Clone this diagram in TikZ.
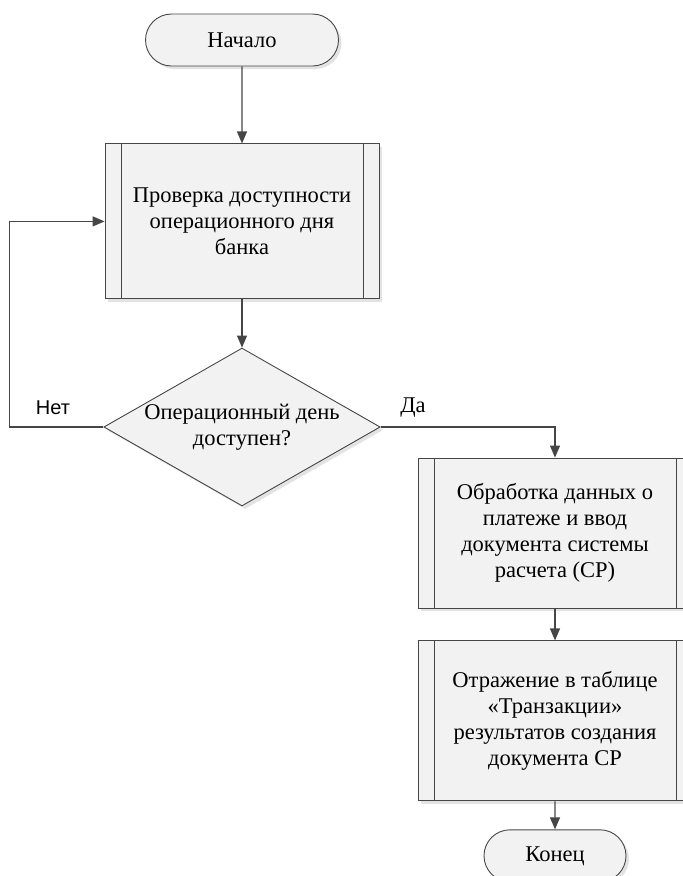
\documentclass[tikz,border=0pt]{standalone}
\usepackage{fontspec}
\setmainfont{Liberation Serif}
\newfontfamily\labelfont{Liberation Sans}
\usepackage{xcolor}
\definecolor{edgegray}{RGB}{70,70,70}
\definecolor{boxgray}{RGB}{242,242,242}
\definecolor{shadegray}{RGB}{200,200,200}
\usetikzlibrary{
  arrows.meta,
  positioning,
  shapes.geometric,
  shapes.misc,
  shadows
}
\tikzset{
  basebox/.style={draw=edgegray, line width=0.9pt, fill=boxgray,
    drop shadow={shadow xshift=3pt, shadow yshift=-3pt, fill=shadegray},
    align=center, font=\fontsize{22.5}{26}\selectfont, inner sep=0pt},
  termbox/.style={basebox, rounded rectangle, minimum height=52pt},
  procbox/.style={basebox, rectangle, minimum width=274pt,
    path picture={
      \draw[edgegray, line width=0.9pt]
        ([xshift=16pt]path picture bounding box.north west) --
        ([xshift=16pt]path picture bounding box.south west)
        ([xshift=-16pt]path picture bounding box.north east) --
        ([xshift=-16pt]path picture bounding box.south east);
    }},
  decbox/.style={basebox, diamond, aspect=1.75,
    minimum width=272pt, minimum height=155pt},
  arr/.style={-{Triangle[length=12pt, width=10pt]}, draw=edgegray,
    line width=1.2pt},
}

\begin{document}
\begin{tikzpicture}[x=1pt, y=-1pt]
  \useasboundingbox (0,0) rectangle (683,876);

  \node[termbox, minimum width=193pt] (start) at (242,40) {Начало};
  \node[procbox, minimum height=155pt, below=77pt of start] (check)
    {Проверка доступности\\операционного дня\\банка};
  \node[decbox] (avail) at (242,427)
    {Операционный день\\доступен?};
  \node[procbox, minimum height=150pt] (input) at (555,533)
    {Обработка данных о\\платеже и ввод\\документа системы\\расчета (СР)};
  \node[procbox, minimum height=160pt, below=32pt of input] (store)
    {Отражение в таблице\\«Транзакции»\\результатов создания\\документа СР};
  \node[termbox, minimum width=142pt, below=28pt of store] (stop) {Конец};

  % main flow
  \draw[arr] (start) -- (check);
  \draw[arr] (check) -- (avail);
  \draw[arr] (avail.east) -| (input.north);
  \draw[arr] (input) -- (store);
  \draw[arr] (store) -- (stop);

  % loop back when the day is closed
  \draw[arr] (avail.west) -- ++(-94,0) |- (check.west);

  \node[font=\labelfont\fontsize{20}{24}\selectfont] (no) at (53,408) {Нет};
  \node[font=\fontsize{22.5}{26}\selectfont] (yes) at (413,408) {Да};
\end{tikzpicture}
\end{document}
